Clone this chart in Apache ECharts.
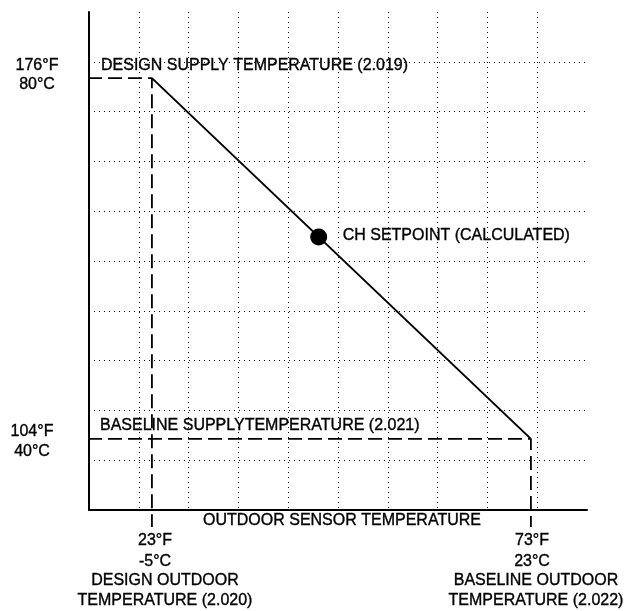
<!DOCTYPE html>
<html>
<head>
<meta charset="utf-8">
<script src="https://cdn.jsdelivr.net/npm/echarts@6/dist/echarts.min.js"></script>
<style>
  html, body { margin: 0; padding: 0; background: #fff; }
  #chart { width: 625px; height: 611px; }
</style>
</head>
<body>
<div id="chart"></div>
<script>
// Outdoor reset curve: CH supply setpoint against outdoor sensor temperature.
const outdoorF = [23, 73];            // design, baseline outdoor temperature (°F)
const outdoorC = [-5, 23];            // same points in °C
const supplyF = [176, 104];           // design, baseline supply temperature (°F)
const supplyC = [80, 40];             // same points in °C
const outdoorParams = ['2.020', '2.022'];
const supplyParams = ['2.019', '2.021'];
const setpointOutdoorF = [45];        // calculated CH setpoint example
const setpointSupplyF = [144.3];

// Axis ranges (°F) and the schematic 10 x 10 grid behind the curve
const xRange = [14.7, 80.4];
const yRange = [89.8, 189.2];
const gridCells = 10;

const FONT = '16px "Liberation Sans", Arial, Helvetica, sans-serif';
const plot = { left: 89, right: 38, top: 12, bottom: 101 };
const plotW = 625 - plot.left - plot.right;
const plotH = 611 - plot.top - plot.bottom;

// guide lines run a little past the axes
const guideLeftX = xRange[0] - 21 * (xRange[1] - xRange[0]) / plotW;
const guideBelowY = yRange[0] - 17 * (yRange[1] - yRange[0]) / plotH;

const curve = outdoorF.map((x, i) => [x, supplyF[i]]);
const guide = (i) => [[guideLeftX, supplyF[i]], [outdoorF[i], supplyF[i]], [outdoorF[i], guideBelowY]];

const gridColors = [];
for (let i = 0; i <= gridCells; i++) gridColors.push(i === 0 || i === gridCells ? 'rgba(0,0,0,0)' : '#000');

const chart = echarts.init(document.getElementById('chart'), null, { renderer: 'canvas' });

chart.setOption({
  animation: false,
  backgroundColor: '#fff',
  grid: { left: plot.left, right: plot.right, top: plot.top, bottom: plot.bottom },
  xAxis: [
    {
      type: 'value', min: xRange[0], max: xRange[1],
      axisLine: { show: true, onZero: false, lineStyle: { color: '#000', width: 2 } },
      axisTick: { show: false }, axisLabel: { show: false }, splitLine: { show: false }
    },
    {
      type: 'value', min: 0, max: gridCells, interval: 1, position: 'bottom',
      axisLine: { show: false }, axisTick: { show: false }, axisLabel: { show: false },
      splitLine: { show: true, lineStyle: { color: gridColors, width: 1, type: [1, 4] } }
    }
  ],
  yAxis: [
    {
      type: 'value', min: yRange[0], max: yRange[1],
      axisLine: { show: true, onZero: false, lineStyle: { color: '#000', width: 2 } },
      axisTick: { show: false }, axisLabel: { show: false }, splitLine: { show: false }
    },
    {
      type: 'value', min: 0, max: gridCells, interval: 1, position: 'left',
      axisLine: { show: false }, axisTick: { show: false }, axisLabel: { show: false },
      splitLine: { show: true, lineStyle: { color: gridColors, width: 1, type: [1, 4] } }
    }
  ],
  series: [
    {
      name: 'design guide', type: 'line', data: guide(0), clip: false,
      showSymbol: false, symbol: 'none', silent: true, z: 3,
      lineStyle: { color: '#000', width: 1.8, type: [14, 6] }
    },
    {
      name: 'baseline guide', type: 'line', data: guide(1), clip: false,
      showSymbol: false, symbol: 'none', silent: true, z: 3,
      lineStyle: { color: '#000', width: 1.8, type: [14, 6] }
    },
    {
      name: 'reset curve', type: 'line', data: curve, clip: false,
      showSymbol: false, symbol: 'none', z: 4,
      lineStyle: { color: '#000', width: 2 }
    },
    {
      name: 'CH setpoint', type: 'scatter', z: 5,
      data: setpointOutdoorF.map((x, i) => [x, setpointSupplyF[i]]),
      symbolSize: 17, itemStyle: { color: '#000', opacity: 1 }
    }
  ]
});

function txt(text, x, y, align) {
  return {
    type: 'text', x: x, y: y, silent: true, z: 10,
    style: {
      text: text, font: FONT, fill: '#000', stroke: '#000', lineWidth: 0.35,
      align: align || 'center', verticalAlign: 'middle'
    }
  };
}

const sp = chart.convertToPixel({ xAxisIndex: 0, yAxisIndex: 0 }, [setpointOutdoorF[0], setpointSupplyF[0]]);
const fmt = (v, u) => v + '°' + u;

chart.setOption({
  graphic: [
    txt(fmt(supplyF[0], 'F'), 37, 66),
    txt(fmt(supplyC[0], 'C'), 37, 85),
    txt(fmt(supplyF[1], 'F'), 32, 432),
    txt(fmt(supplyC[1], 'C'), 32, 452),
    txt('DESIGN SUPPLY TEMPERATURE (' + supplyParams[0] + ')', 101, 66, 'left'),
    txt('BASELINE SUPPLYTEMPERATURE (' + supplyParams[1] + ')', 100, 426, 'left'),
    txt('CH SETPOINT (CALCULATED)', sp[0] + 24, sp[1] - 1, 'left'),
    txt('OUTDOOR SENSOR TEMPERATURE', 203, 521, 'left'),
    txt(fmt(outdoorF[0], 'F'), 155, 541),
    txt(fmt(outdoorC[0], 'C'), 155, 562),
    txt('DESIGN OUTDOOR', 165, 581),
    txt('TEMPERATURE (' + outdoorParams[0] + ')', 165, 601),
    txt(fmt(outdoorF[1], 'F'), 532, 541),
    txt(fmt(outdoorC[1], 'C'), 532, 562),
    txt('BASELINE OUTDOOR', 536, 581),
    txt('TEMPERATURE (' + outdoorParams[1] + ')', 536, 601)
  ]
});
</script>
</body>
</html>
